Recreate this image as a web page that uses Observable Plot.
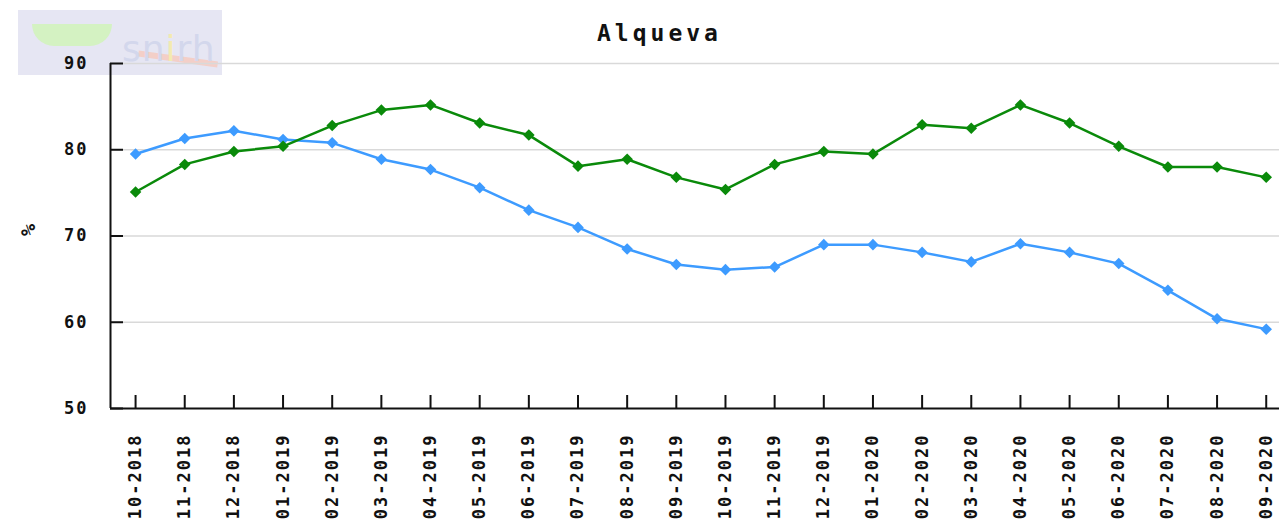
<!DOCTYPE html>
<html>
<head>
<meta charset="utf-8">
<script src="https://cdn.jsdelivr.net/npm/d3@7"></script>
<script src="https://cdn.jsdelivr.net/npm/@observablehq/plot@0.6"></script>
<style>
  body { margin: 0; background: #fff; }
  #wrap { position: relative; width: 1279px; height: 520px; overflow: hidden; }
  #logo { position: absolute; left: 18px; top: 10px; width: 204px; height: 65px; background: #e6e6f3; overflow: hidden; }
  #logo .hill { position: absolute; left: 14px; top: 14px; width: 80px; height: 22px; background: #d4f2c2; border-radius: 0 0 40px 40px; }
  #logo .swoosh { position: absolute; left: 120px; top: 46px; width: 80px; height: 6px; background: #f3cfc8; transform: rotate(8deg); }
  #logo .txt { position: absolute; left: 104px; top: 18px; font: 36px "DejaVu Sans"; color: #d3d7ec; letter-spacing: 1px; }
  #logo .i { color: #f3eab0; }
  #title { position: absolute; left: 597px; top: 20px; font: bold 23px "DejaVu Sans Mono", monospace; letter-spacing: 4px; color: #111; }
  #chart { position: absolute; left: 0; top: 0; }
  #chart svg text { letter-spacing: 2px; }
</style>
</head>
<body>
<div id="wrap">
  <div id="logo"><div class="hill"></div><div class="swoosh"></div><div class="txt">sn<span class="i">i</span>rh</div></div>
  <div id="chart"></div>
  <div id="title">Alqueva</div>
</div>
<script>
const months = ["10-2018","11-2018","12-2018","01-2019","02-2019","03-2019","04-2019","05-2019","06-2019","07-2019","08-2019","09-2019","10-2019","11-2019","12-2019","01-2020","02-2020","03-2020","04-2020","05-2020","06-2020","07-2020","08-2020","09-2020"];
const storageBlue = [79.5,81.3,82.2,81.2,80.8,78.9,77.7,75.6,73.0,71.0,68.5,66.7,66.1,66.4,69.0,69.0,68.1,67.0,69.1,68.1,66.8,63.7,60.4,59.2];
const averageGreen = [75.1,78.3,79.8,80.4,82.8,84.6,85.2,83.1,81.7,78.1,78.9,76.8,75.4,78.3,79.8,79.5,82.9,82.5,85.2,83.1,80.4,78.0,78.0,76.8];
const yTicks = [50,60,70,80,90];
const gridTicks = [60,70,80,90];
const yLabel = "%";

const blueColor = "#3d9bff";
const greenColor = "#0a8a0a";

const idx = months.map((_, i) => i);
const blueData = idx.map(i => ({i, v: storageBlue[i]}));
const greenData = idx.map(i => ({i, v: averageGreen[i]}));
const xDomain = [-0.51, 23.27];

const font = '"DejaVu Sans Mono", monospace';

const plot = Plot.plot({
  width: 1279,
  height: 520,
  marginTop: 63,
  marginBottom: 112,
  marginLeft: 110,
  marginRight: 0,
  style: { background: "transparent", fontFamily: font, fontSize: "17px", fontWeight: "bold", color: "#111" },
  x: { type: "linear", domain: xDomain },
  y: { domain: [50, 90] },
  marks: [
    Plot.ruleY(gridTicks, { stroke: "#d9d9d9", strokeWidth: 1.5 }),
    Plot.ruleY([50], { stroke: "#111", strokeWidth: 2 }),
    Plot.ruleX([xDomain[0]], { y1: 50, y2: 90, stroke: "#111", strokeWidth: 2 }),
    Plot.axisY({ ticks: yTicks, tickSize: -13, tickPadding: 35, strokeWidth: 2, fontSize: 17, label: null }),
    Plot.axisX({ ticks: idx, tickFormat: i => months[i], tickSize: -13, tickPadding: 38, fontSize: 17,
      tickRotate: -90, strokeWidth: 2, label: null }),
    Plot.text([yLabel], { text: d => d, frameAnchor: "left", dx: -82, rotate: -90, fontSize: 20, fill: "#111" }),
    Plot.line(blueData, { x: "i", y: "v", stroke: blueColor, strokeWidth: 2.5 }),
    Plot.dot(blueData, { x: "i", y: "v", symbol: "diamond2", r: 5.2, fill: blueColor, stroke: "none" }),
    Plot.line(greenData, { x: "i", y: "v", stroke: greenColor, strokeWidth: 2.5 }),
    Plot.dot(greenData, { x: "i", y: "v", symbol: "diamond2", r: 5.2, fill: greenColor, stroke: "none" })
  ]
});
document.getElementById("chart").appendChild(plot);
</script>
</body>
</html>
